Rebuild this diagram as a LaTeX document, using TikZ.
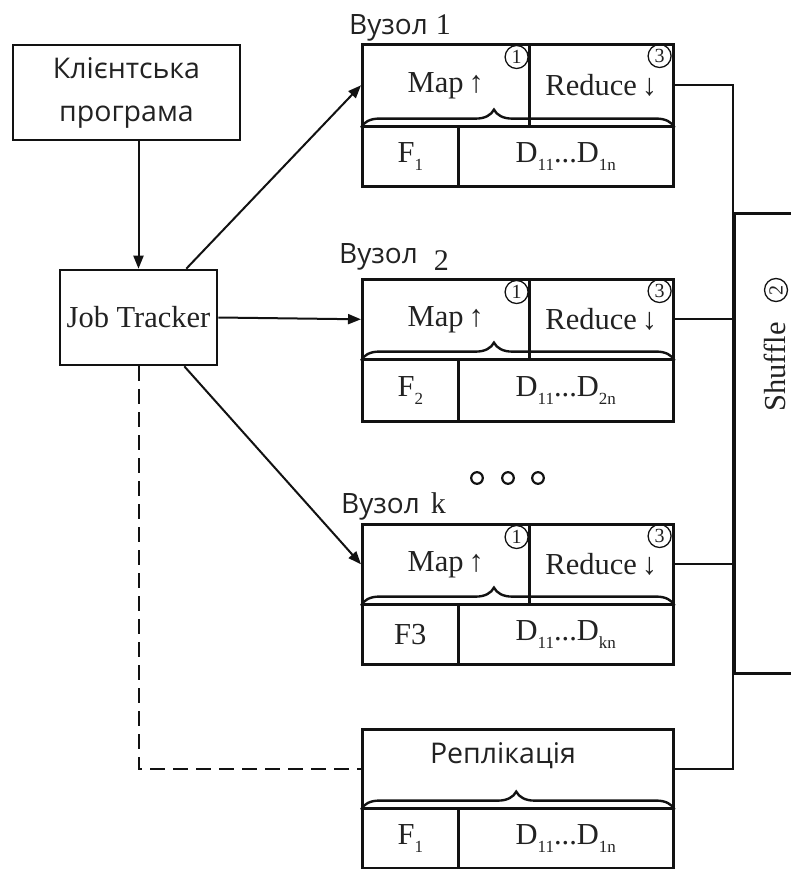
\documentclass[tikz,border=0pt]{standalone}
\usepackage{fontspec}
\setmainfont{Liberation Serif}
\newfontfamily\uisans{Open Sans}
\usetikzlibrary{arrows.meta,decorations.pathreplacing,calc}

\definecolor{ink}{HTML}{121212}
\definecolor{txt}{HTML}{222222}

% lowered small index, e.g. D_{11}
\newcommand\idx[1]{\raisebox{-0.26em}{\fontsize{17}{17}\selectfont #1}}

\tikzset{
  x=1pt, y=-1pt,
  box/.style={draw=ink, line width=2.6pt, inner sep=0pt, text=txt},
  cell/.style={box, anchor=north west},
  serif/.style={font=\fontsize{30.5}{32}\selectfont},
  sanslbl/.style={font=\uisans\fontsize{28.5}{43}\selectfont, text=txt},
  conn/.style={draw=ink, line width=2pt},
  arr/.style={conn, -{Triangle[length=13pt,width=10pt]}},
  cnum/.style={circle, draw=ink, line width=1.3pt, inner sep=0pt, minimum size=23pt,
               font=\fontsize{20}{20}\selectfont, text=txt},
  bracey/.style={draw=ink, line width=2.4pt, decorate},
  vlabel/.style={anchor=base west, inner sep=0pt, text=txt,
                 font=\uisans\fontsize{28}{28}\selectfont},
}

\begin{document}
\begin{tikzpicture}
\useasboundingbox (0,0) rectangle (791,869);
\clip (0,0) rectangle (791,869);

% client program and job tracker
\node[box, sanslbl, align=center, minimum width=227pt, minimum height=95pt]
  (client) at (126.5,92.5) {Клієнтська\\програма};
\node[box, serif, minimum width=157pt, minimum height=95pt]
  (jt) at (138.5,317.5) {Job Tracker};

% worker nodes: upper row Map / Reduce, lower row F / D
\node[cell, serif, minimum width=167pt, minimum height=82pt] (map1) at (361,43) {Map\,↑};
\node[cell, serif, minimum width=144pt, minimum height=82pt] (red1) at (528,43) {Reduce\,↓};
\node[cell, serif, minimum width=96pt,  minimum height=60pt] (f1) at (361,125) {F\idx{1}};
\node[cell, serif, minimum width=215pt, minimum height=60pt] (d1) at (457,125) {D\idx{11}...D\idx{1n}};

\node[cell, serif, minimum width=167pt, minimum height=80pt] (map2) at (361,278) {Map\,↑};
\node[cell, serif, minimum width=144pt, minimum height=80pt] (red2) at (528,278) {Reduce\,↓};
\node[cell, serif, minimum width=96pt,  minimum height=62pt] (f2) at (361,358) {F\idx{2}};
\node[cell, serif, minimum width=215pt, minimum height=62pt] (d2) at (457,358) {D\idx{11}...D\idx{2n}};

\node[cell, serif, minimum width=167pt, minimum height=80pt] (mapk) at (361,523) {Map\,↑};
\node[cell, serif, minimum width=144pt, minimum height=80pt] (redk) at (528,523) {Reduce\,↓};
\node[cell, serif, minimum width=96pt,  minimum height=60pt] (fk) at (361,603) {F3};
\node[cell, serif, minimum width=215pt, minimum height=60pt] (dk) at (457,603) {D\idx{11}...D\idx{kn}};

% replication block
\node[cell, minimum width=311pt, minimum height=79pt] (rep) at (361,728) {};
\node[sanslbl] (reptxt) at (503,756) {Реплікація};
\node[cell, serif, minimum width=96pt,  minimum height=60pt] (fr) at (361,807) {F\idx{1}};
\node[cell, serif, minimum width=215pt, minimum height=60pt] (dr) at (457,807) {D\idx{11}...D\idx{1n}};

% braces over the storage rows
\draw[bracey, decoration={brace, amplitude=18pt, aspect=0.424}] (map1.south west) -- (red1.south east);
\draw[bracey, decoration={brace, amplitude=18pt, aspect=0.424}] (map2.south west) -- (red2.south east);
\draw[bracey, decoration={brace, amplitude=18pt, aspect=0.424}] (mapk.south west) -- (redk.south east);
\draw[bracey, decoration={brace, amplitude=18pt, aspect=0.495}] (rep.south west) -- (rep.south east);

% step numbers
\node[cnum] (s1a) at ($(map1.north east)+(-14,14)$) {1};
\node[cnum] (s3a) at ($(red1.north east)+(-15,13)$) {3};
\node[cnum] (s1b) at ($(map2.north east)+(-14,14)$) {1};
\node[cnum] (s3b) at ($(red2.north east)+(-15,13)$) {3};
\node[cnum] (s1c) at ($(mapk.north east)+(-14,14)$) {1};
\node[cnum] (s3c) at ($(redk.north east)+(-15,13)$) {3};

% node captions
\node[vlabel] (lab1) at (349,35) {Вузол\hspace{8pt}{\rmfamily\fontsize{30}{30}\selectfont 1}};
\node[vlabel] (lab2) at (339,263) {Вузол\hspace{16pt}\raisebox{-7pt}{\rmfamily\fontsize{30}{30}\selectfont 2}};
\node[vlabel] (labk) at (341,513) {Вузол\hspace{11pt}{\rmfamily\fontsize{30}{30}\selectfont k}};

% ellipsis between nodes
\foreach \cx in {477,508,538}
  \draw[ink, line width=2.2pt] (\cx,478) circle (5.8pt);

% shuffle stage
\node[box, anchor=north west, minimum width=120pt, minimum height=460pt] (shuf) at (733,212) {};
\node[serif, rotate=90, text=txt] (shuftxt) at (775,367) {Shuffle};
\node[cnum, rotate=90] (s2) at (776,290) {2};

% connectors
\draw[arr] (client.south -| jt.north) -- (jt.north);
\draw[arr] ([xshift=-32pt]jt.north east) -- (map1.west);
\draw[arr] (jt.east) -- (map2.west);
\draw[arr] ([xshift=-34pt]jt.south east) -- (mapk.west);
\draw[conn, dash pattern=on 15pt off 8pt] (jt.south) |- (rep.west);

\draw[conn] (red1.east) -- (red1.east -| shuf.west) -- (rep.east -| shuf.west) -- (rep.east);
\draw[conn] (red2.east) -- (red2.east -| shuf.west);
\draw[conn] (redk.east) -- (redk.east -| shuf.west);
\end{tikzpicture}
\end{document}
